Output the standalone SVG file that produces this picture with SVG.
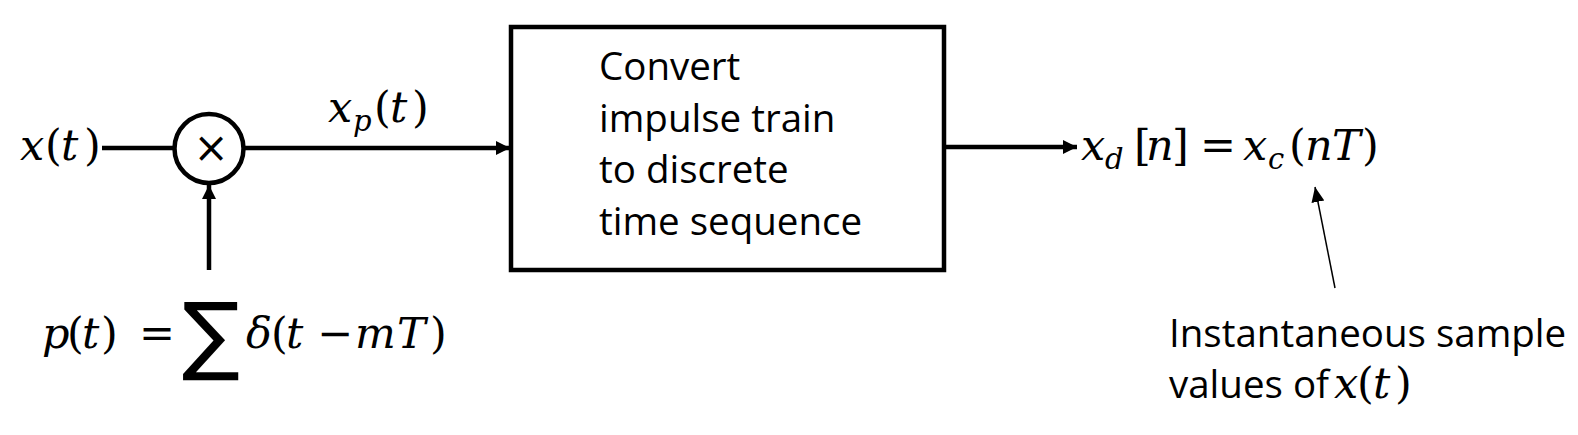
<svg xmlns="http://www.w3.org/2000/svg" width="1578" height="435" viewBox="0 0 1578 435">
<style>
.bg{fill:#fff}
.sans{font-family:"Open Sans","Noto Sans",sans-serif;font-size:38.5px;fill:#000}
.m{font-family:"DejaVu Serif","Liberation Serif",serif;font-size:43px;fill:#000}
.i{font-style:italic}
.sub{font-size:29px}
.thick{stroke:#000;stroke-width:4.5;fill:none}
.thin{stroke:#000;stroke-width:1.5;fill:none}
</style>
<defs>
<marker id="ah" markerUnits="userSpaceOnUse" markerWidth="16" markerHeight="14" refX="14" refY="7" orient="auto">
<path d="M0,0 L14,7 L0,14 z" fill="#000"/>
</marker>
<marker id="ahThin" markerUnits="userSpaceOnUse" markerWidth="16" markerHeight="14" refX="15" refY="6.5" orient="auto">
<path d="M0,0 L15,6.5 L0,13 z" fill="#000"/>
</marker>
</defs>
<rect class="bg" width="1578" height="435"/>

<g id="connectors">
<line class="thick" x1="102" y1="148" x2="174" y2="148"/>
<line class="thick" x1="244" y1="148" x2="510" y2="148" marker-end="url(#ah)"/>
<line class="thick" x1="209" y1="270" x2="209" y2="185" marker-end="url(#ah)"/>
<line class="thick" x1="944" y1="147" x2="1077" y2="147" marker-end="url(#ah)"/>
<line class="thin" x1="1335" y1="288" x2="1315" y2="187" marker-end="url(#ahThin)"/>
</g>

<g id="input-x">
<text class="m" y="160"><tspan class="i" x="20">x</tspan><tspan x="45">(</tspan><tspan class="i" x="61">t</tspan><tspan x="84">)</tspan></text>
</g>

<g id="multiplier">
<circle cx="209" cy="148.5" r="34.5" class="thick"/>
<text x="211" y="162" text-anchor="middle" font-family="DejaVu Sans,sans-serif" font-size="42">×</text>
</g>

<g id="label-xp">
<text class="m" y="122"><tspan class="i" x="328">x</tspan><tspan class="i sub" x="353" dy="9">p</tspan><tspan x="374" dy="-9">(</tspan><tspan class="i" x="390">t</tspan><tspan x="412">)</tspan></text>
</g>

<g id="pulse-train">
<text class="m" y="348"><tspan class="i" x="42">p</tspan><tspan x="67">(</tspan><tspan class="i" x="82">t</tspan><tspan x="101">)</tspan><tspan x="139">=</tspan><tspan x="246" class="i">δ</tspan><tspan x="271">(</tspan><tspan class="i" x="286">t</tspan><tspan x="317">−</tspan><tspan class="i" x="355">m</tspan><tspan class="i" x="397">T</tspan><tspan x="430">)</tspan></text>
<text x="182" y="364" font-family="DejaVu Sans,sans-serif" font-size="86">∑</text>
</g>

<g id="converter">
<rect x="511" y="27" width="433" height="243" class="thick"/>
<text class="sans"><tspan x="599" y="80">Convert</tspan><tspan x="599" y="132">impulse train</tspan><tspan x="599" y="183">to discrete</tspan><tspan x="599" y="235">time sequence</tspan></text>
</g>

<g id="output">
<text class="m" y="160"><tspan class="i" x="1081">x</tspan><tspan class="i sub" x="1105" dy="9">d</tspan><tspan x="1134" dy="-9">[</tspan><tspan class="i" x="1146">n</tspan><tspan x="1172">]</tspan><tspan x="1200">=</tspan><tspan class="i" x="1243">x</tspan><tspan class="i sub" x="1268" dy="9">c</tspan><tspan x="1289" dy="-9">(</tspan><tspan class="i" x="1305">n</tspan><tspan class="i" x="1332">T</tspan><tspan x="1362">)</tspan></text>
</g>

<g id="note">
<text class="sans" x="1169" y="347">Instantaneous sample</text>
<text class="sans" x="1169" y="398">values of</text>
<text class="m" y="398"><tspan class="i" x="1334">x</tspan><tspan x="1357">(</tspan><tspan class="i" x="1373">t</tspan><tspan x="1395">)</tspan></text>
</g>
</svg>
